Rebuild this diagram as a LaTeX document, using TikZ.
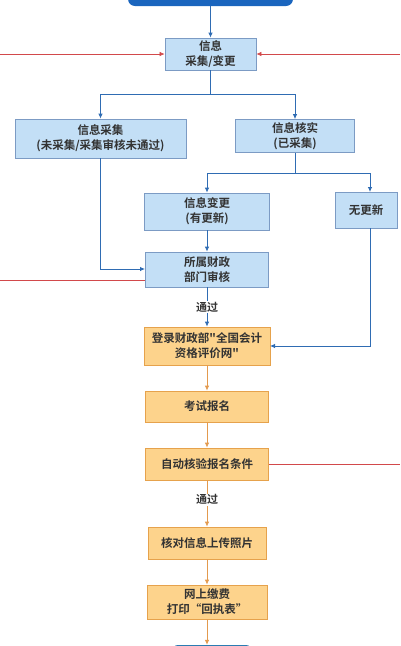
\documentclass[tikz,border=0pt]{standalone}
\usepackage{fontspec}
\newfontfamily\cjk{Noto Sans CJK SC Bold}
\usetikzlibrary{arrows.meta,calc}
\definecolor{bfill}{HTML}{C3DFF6}
\definecolor{bdraw}{HTML}{7C9BC4}
\definecolor{ofill}{HTML}{FDD38C}
\definecolor{odraw}{HTML}{E6A24C}
\definecolor{bline}{HTML}{2F6CB3}
\definecolor{oline}{HTML}{E39A4E}
\definecolor{rline}{HTML}{D2494B}
\definecolor{topblue}{HTML}{1A65BE}
\definecolor{botblue}{HTML}{2B7CB2}
\definecolor{txt}{HTML}{333333}
\tikzset{
  x=1pt,y=-1pt,
  box/.style={draw, line width=0.8pt, inner sep=0pt, align=center,
    font=\cjk\fontsize{11.5}{15}\selectfont, text=txt},
  bbox/.style={box, draw=bdraw, fill=bfill},
  obox/.style={box, draw=odraw, fill=ofill},
  barr/.style={draw=bline, line width=0.8pt, -{Latex[length=5pt,width=4.5pt]}},
  bln/.style={draw=bline, line width=0.8pt},
  oarr/.style={draw=oline, line width=0.8pt, -{Latex[length=5pt,width=4.5pt]}},
  rarr/.style={draw=rline, line width=0.6pt, -{Latex[length=5pt,width=4.5pt]}},
  rln/.style={draw=rline, line width=0.6pt},
  lbl/.style={fill=white, inner sep=1pt, font=\cjk\fontsize{11}{13}\selectfont, text=txt},
}
\begin{document}
\begin{tikzpicture}
\useasboundingbox (0,0) rectangle (400,646);
\clip (0,0) rectangle (400,646);
% top and bottom partial boxes
\node[draw=none, fill=topblue, rounded corners=7pt, minimum width=165pt, minimum height=30pt, inner sep=0pt] (top) at (210.5,-9) {};
\node[draw=none, fill=botblue, rounded corners=6pt, minimum width=80pt, minimum height=24pt, inner sep=0pt] (bot) at (212,657) {};
% boxes
\node[bbox, minimum width=91pt, minimum height=32pt] (b1) at (210.5,54) {信息\\采集/变更};
\node[bbox, minimum width=171pt, minimum height=39pt] (b2) at (100.5,138.5) {信息采集\\(未采集/采集审核未通过)};
\node[bbox, minimum width=119pt, minimum height=33pt] (b3) at (295,136) {信息核实\\(已采集)};
\node[bbox, minimum width=125pt, minimum height=37pt] (b4) at (207,211.5) {信息变更\\(有更新)};
\node[bbox, minimum width=62pt, minimum height=36pt] (b5) at (366,210) {无更新};
\node[bbox, minimum width=123pt, minimum height=35pt] (b6) at (207,269.5) {所属财政\\部门审核};
\node[obox, minimum width=126pt, minimum height=38pt] (b7) at (207,346) {登录财政部"全国会计\\资格评价网"};
\node[obox, minimum width=123pt, minimum height=31pt] (b8) at (207,406.5) {考试报名};
\node[obox, minimum width=123pt, minimum height=32pt] (b9) at (207,464) {自动核验报名条件};
\node[obox, minimum width=118pt, minimum height=32pt] (b10) at (207,543) {核对信息上传照片};
\node[obox, minimum width=120pt, minimum height=34pt] (b11) at (207,602) {网上缴费\\打印“回执表”};
% coordinates
\coordinate (j1) at (210.5,94);
\coordinate (j2) at (295,173);
\coordinate (b5in) at (370,192);
\coordinate (b5out) at (370,228);
\coordinate (b7in) at (270,346);
\coordinate (b6in) at (145,269);
\coordinate (lw1) at (0,54);
\coordinate (rw1) at (400,54);
\coordinate (lw2) at (0,280);
\coordinate (b6l) at (145,280);
\coordinate (rw3) at (400,464);
% blue connectors
\draw[barr] (top.south -| b1.north) -- (b1.north);
\draw[bln] (b1.south) -- (j1);
\draw[barr] (j1) -| (b2.north);
\draw[barr] (j1) -| (b3.north);
\draw[bln] (b3.south) -- (j2);
\draw[barr] (j2) -| (b4.north);
\draw[barr] (j2) -| (b5in);
\draw[barr] (b2.south) |- (b6in);
\draw[barr] (b4.south) -- (b6.north);
\draw[barr] (b6.south) -- node[lbl, pos=0.5] {通过} (b7.north);
\draw[barr] (b5out) |- (b7in);
% orange connectors
\draw[oarr] (b7.south) -- (b8.north);
\draw[oarr] (b8.south) -- (b9.north);
\draw[oarr] (b9.south) -- node[lbl, pos=0.42] {通过} (b10.north);
\draw[oarr] (b10.south) -- (b11.north);
\draw[oarr] (b11.south) -- (bot.north -| b11.south);
% red lines
\draw[rarr] (lw1) -- (b1.west);
\draw[rarr] (rw1) -- (b1.east);
\draw[rln] (b6l) -- (lw2);
\draw[rln] (b9.east) -- (rw3);
\end{tikzpicture}
\end{document}
